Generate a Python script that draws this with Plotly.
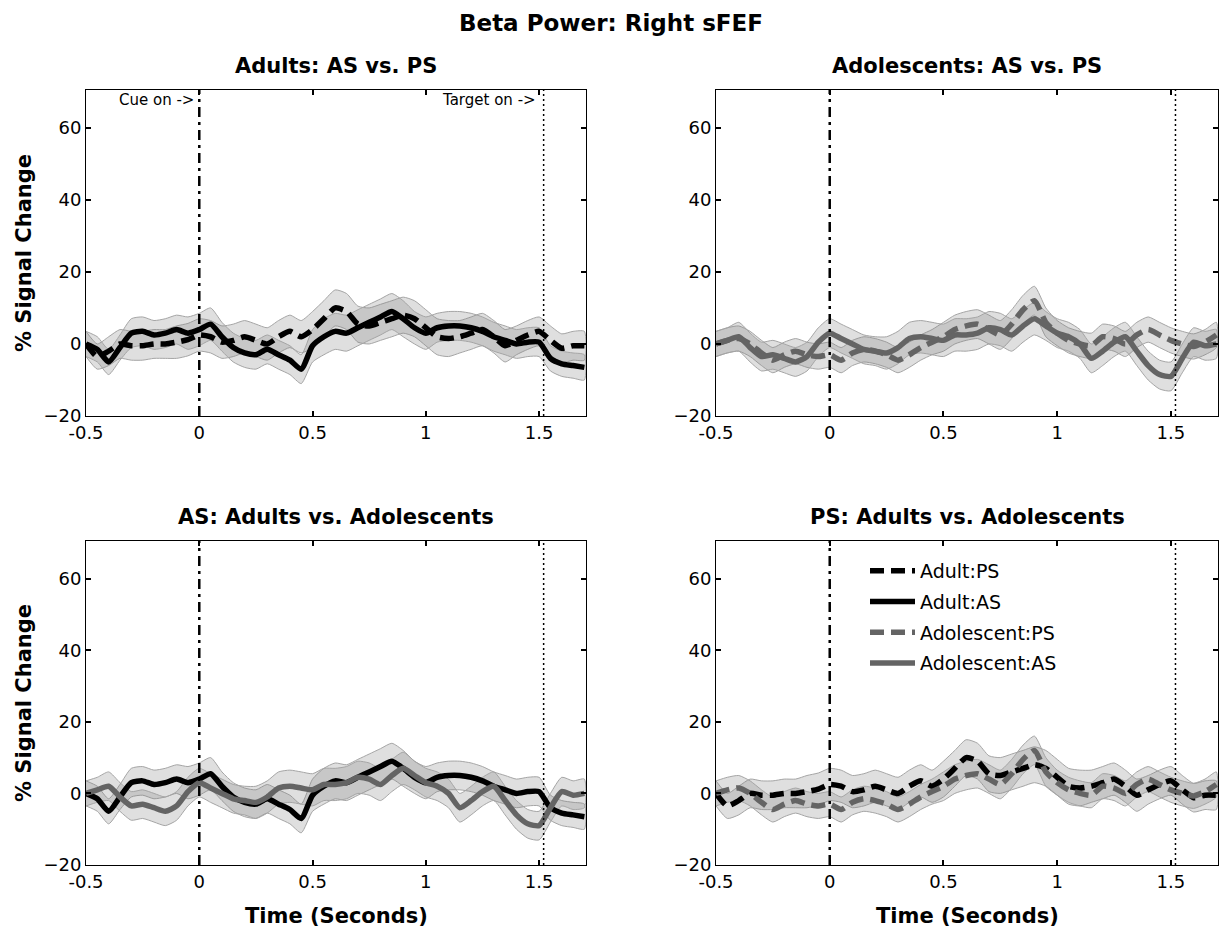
import plotly.graph_objects as go

# ---------------- data ----------------
TIME = [-0.5, -0.45, -0.4, -0.35, -0.3, -0.25, -0.2, -0.15, -0.1, -0.05,
        0.0, 0.05, 0.1, 0.15, 0.2, 0.25, 0.3, 0.35, 0.4, 0.45,
        0.5, 0.55, 0.6, 0.65, 0.7, 0.75, 0.8, 0.85, 0.9, 0.95,
        1.0, 1.05, 1.1, 1.15, 1.2, 1.25, 1.3, 1.35, 1.4, 1.45,
        1.5, 1.55, 1.6, 1.65, 1.7]

ADULT_AS = [0, -1.5, -5, -1, 3, 3.5, 2.5, 3, 4, 3,
            4, 5.5, 2, -1, -2.5, -3, -1.5, -3, -4.5, -7,
            -0.5, 2, 3.5, 3, 4.5, 6, 7.5, 9, 7, 4.5,
            3, 4.5, 5, 5, 4.5, 3.5, 2, 1, 0, 0.5,
            0.5, -4, -5.5, -6, -6.5]
ADULT_PS = [0, -3.5, -2, 0, -0.5, -0.5, 0, 0, 0.5, 1.2,
            2.5, 2, 0.5, 1, 2, 1, 0, 2, 3.5, 2,
            4, 7, 10, 9, 5.5, 5, 6, 7, 8, 7,
            4.5, 2, 1.5, 2, 3, 4, 2, -0.5, 1, 2.5,
            3.5, 1, -1.2, -0.5, -0.5]
ADOL_AS = [0, 1, 2, -1, -3.5, -3, -4, -5, -3.5, 0.5,
           3, 1.5, 0, -1.5, -2, -2.5, -1, 1.5, 2, 1.5,
           1, 2.5, 2.5, 3, 4.5, 4, 2.5, 5, 7, 5,
           3, 2, 0, -4, -2, 0.5, 2, -2, -6, -8.5,
           -9, -4, 0.5, -0.5, 0]
ADOL_PS = [0, 1, 1.5, 0, -2.5, -4.5, -3, -2, -3, -3.5,
           -3, -4.5, -2.5, -1.5, -2, -3, -4.5, -3, -1, 0.5,
           2, 4, 5, 5.5, 4, 2.5, 5.5, 9.5, 12, 6,
           3, 1, 0, -0.5, 2, 1.5, 0, 2.5, 4, 2.5,
           1, 0, -0.7, 0.5, 2.5]

ADULT_AS_SEM = [3.5, 3.5, 3.5, 3.5, 4, 4, 4, 4, 4, 4.5,
                4.5, 4.5, 4, 4, 4, 4, 4, 4, 4, 4,
                4.5, 5, 5, 5, 5, 5, 5, 5, 5, 4.5,
                4.5, 4, 4, 4, 4, 4, 4, 4, 4, 4,
                4, 3.5, 3.5, 3.5, 3.5]
ADULT_PS_SEM = [3.5, 3.5, 4, 4, 4, 4, 4, 4, 4.5, 4.5,
                4.5, 4.5, 4.5, 4.5, 4.5, 4.5, 4.5, 4.5, 4.5, 4.5,
                5, 5, 5, 5, 5, 5, 5, 5, 5, 5,
                5, 5, 5, 4.5, 4.5, 4.5, 4.5, 4.5, 4, 4,
                4, 4, 4, 4, 4]
ADOL_AS_SEM = [3.5, 3.5, 4, 4, 4, 4, 4, 4, 4, 4,
               4, 4, 4, 4, 4, 4.5, 4.5, 4.5, 4.5, 4.5,
               4.5, 4.5, 4.5, 4.5, 4.5, 4.5, 4.5, 4.5, 4.5, 4,
               4, 4, 4, 4, 4, 4, 4, 4, 4, 4,
               4, 4, 4, 4, 4]
ADOL_PS_SEM = [3.5, 3.5, 3.5, 3.5, 3.5, 3.5, 3.5, 3.5, 3.5, 3.5,
               3.5, 3.5, 3.5, 3.5, 3.5, 3.5, 3.5, 3.5, 3.5, 3.5,
               4, 4, 4, 4, 4, 4, 4, 4, 4, 4,
               3.5, 3.5, 3.5, 3.5, 3.5, 3.5, 3.5, 3.5, 3.5, 3.5,
               3.5, 3.5, 3.5, 3.5, 3.5]

CUE_TIME = 0.0
TARGET_TIME = 1.52

X_TICKS = [-0.5, 0, 0.5, 1, 1.5]
X_TICK_TEXT = ["-0.5", "0", "0.5", "1", "1.5"]
Y_TICKS = [-20, 0, 20, 40, 60]

MAIN_TITLE = "Beta Power: Right sFEF"
PANEL_TITLES = ["Adults: AS vs. PS", "Adolescents: AS vs. PS",
                "AS: Adults vs. Adolescents", "PS: Adults vs. Adolescents"]

# ---------------- styling ----------------
BLACK = "#000000"
GRAY = "rgb(100,100,100)"
BAND_FILL = "rgba(128,128,128,0.25)"
BAND_EDGE = "rgb(165,165,165)"
DASH = "14px,7px"
LW = 5.5
FONT = "DejaVu Sans"

SERIES = {
    "Adult:PS": (ADULT_PS, ADULT_PS_SEM, BLACK, DASH),
    "Adult:AS": (ADULT_AS, ADULT_AS_SEM, BLACK, "solid"),
    "Adolescent:PS": (ADOL_PS, ADOL_PS_SEM, GRAY, DASH),
    "Adolescent:AS": (ADOL_AS, ADOL_AS_SEM, GRAY, "solid"),
}
RANK = {"Adult:PS": 1, "Adult:AS": 2, "Adolescent:PS": 3, "Adolescent:AS": 4}

PANELS = {
    1: ["Adult:PS", "Adult:AS"],
    2: ["Adolescent:PS", "Adolescent:AS"],
    3: ["Adult:AS", "Adolescent:AS"],
    4: ["Adult:PS", "Adolescent:PS"],
}
LEGEND_FROM = {"Adult:AS": 3, "Adolescent:AS": 3, "Adult:PS": 4, "Adolescent:PS": 4}

W, H = 1222, 930
XDOM_L = [86 / W, 586 / W]
XDOM_R = [716 / W, 1218 / W]
YDOM_T = [1 - 416 / H, 1 - 90 / H]
YDOM_B = [1 - 865 / H, 1 - 541 / H]
DOMS = {1: (XDOM_L, YDOM_T), 2: (XDOM_R, YDOM_T), 3: (XDOM_L, YDOM_B), 4: (XDOM_R, YDOM_B)}

fig = go.Figure()

for p, names in PANELS.items():
    xa = "x" if p == 1 else f"x{p}"
    ya = "y" if p == 1 else f"y{p}"
    for n in names:
        mean, sem, color, dash = SERIES[n]
        upper = [m + s for m, s in zip(mean, sem)]
        lower = [m - s for m, s in zip(mean, sem)]
        fig.add_trace(go.Scatter(
            x=TIME + TIME[::-1], y=upper + lower[::-1],
            xaxis=xa, yaxis=ya, mode="lines", fill="toself",
            fillcolor=BAND_FILL, line=dict(color=BAND_EDGE, width=1, shape="spline", smoothing=0.6),
            hoverinfo="skip", showlegend=False))
    for n in names:
        mean, sem, color, dash = SERIES[n]
        fig.add_trace(go.Scatter(
            x=TIME, y=mean, xaxis=xa, yaxis=ya, mode="lines", name=n,
            line=dict(color=color, width=LW, dash=dash, shape="spline", smoothing=0.6),
            showlegend=(LEGEND_FROM[n] == p), legendrank=RANK[n], legendgroup=n))

axis_common = dict(
    showline=True, linecolor="black", linewidth=1, mirror="ticks",
    ticks="inside", ticklen=5, tickwidth=1.5, tickcolor="black",
    showgrid=False, zeroline=False,
    tickfont=dict(family=FONT, size=18, color="black"),
)
layout = {}
for p, (xd, yd) in DOMS.items():
    xk = "xaxis" if p == 1 else f"xaxis{p}"
    yk = "yaxis" if p == 1 else f"yaxis{p}"
    xa = "x" if p == 1 else f"x{p}"
    ya = "y" if p == 1 else f"y{p}"
    layout[xk] = dict(domain=xd, anchor=ya, range=[-0.5, 1.707],
                      tickvals=X_TICKS, ticktext=X_TICK_TEXT, **axis_common)
    layout[yk] = dict(domain=yd, anchor=xa, range=[-20, 70.5],
                      tickvals=Y_TICKS, **axis_common)

shapes = []
for p in DOMS:
    xa = "x" if p == 1 else f"x{p}"
    ya = "y" if p == 1 else f"y{p}"
    shapes.append(dict(type="line", xref=xa, yref=f"{ya} domain", x0=CUE_TIME, x1=CUE_TIME,
                       y0=0, y1=1, line=dict(color="black", width=2.5, dash="10px,5px,3px,5px")))
    shapes.append(dict(type="line", xref=xa, yref=f"{ya} domain", x0=TARGET_TIME, x1=TARGET_TIME,
                       y0=0, y1=1, line=dict(color="black", width=1.5, dash="2px,3px")))

ann = []
ann.append(dict(text=f"<b>{MAIN_TITLE}</b>", x=0.5, y=1 - 23 / H, xref="paper", yref="paper",
                xanchor="center", yanchor="middle", showarrow=False,
                font=dict(family=FONT, size=23, color="black")))
for p, (xd, yd) in DOMS.items():
    ann.append(dict(text=f"<b>{PANEL_TITLES[p - 1]}</b>", x=(xd[0] + xd[1]) / 2,
                    y=yd[1] + 24 / H, xref="paper", yref="paper",
                    xanchor="center", yanchor="middle", showarrow=False,
                    font=dict(family=FONT, size=21, color="black")))
    if p in (1, 3):
        ann.append(dict(text="<b>% Signal Change</b>", x=24 / W, y=(yd[0] + yd[1]) / 2,
                        xref="paper", yref="paper", textangle=-90, showarrow=False,
                        xanchor="center", yanchor="middle",
                        font=dict(family=FONT, size=21, color="black")))
    if p in (3, 4):
        ann.append(dict(text="<b>Time (Seconds)</b>", x=(xd[0] + xd[1]) / 2, y=1 - 916 / H,
                        xref="paper", yref="paper", showarrow=False,
                        xanchor="center", yanchor="middle",
                        font=dict(family=FONT, size=21, color="black")))
ann.append(dict(text="Cue on ->", x=CUE_TIME, y=0.969, xref="x", yref="y domain",
                xanchor="right", yanchor="middle", xshift=-3, showarrow=False,
                font=dict(family=FONT, size=15, color="black")))
ann.append(dict(text="Target on ->", x=TARGET_TIME, y=0.969, xref="x", yref="y domain",
                xanchor="right", yanchor="middle", xshift=-6, showarrow=False,
                font=dict(family=FONT, size=15, color="black")))

fig.update_layout(
    width=W, height=H, margin=dict(l=0, r=0, t=0, b=0),
    paper_bgcolor="white", plot_bgcolor="white", template="none",
    shapes=shapes, annotations=ann,
    legend=dict(x=865 / W, y=1 - 552 / H, xanchor="left", yanchor="top",
                bgcolor="rgba(0,0,0,0)", borderwidth=0, traceorder="grouped",
                tracegroupgap=3, itemwidth=45,
                font=dict(family=FONT, size=19, color="black")),
    **layout,
)

fig.write_html("out.html")
